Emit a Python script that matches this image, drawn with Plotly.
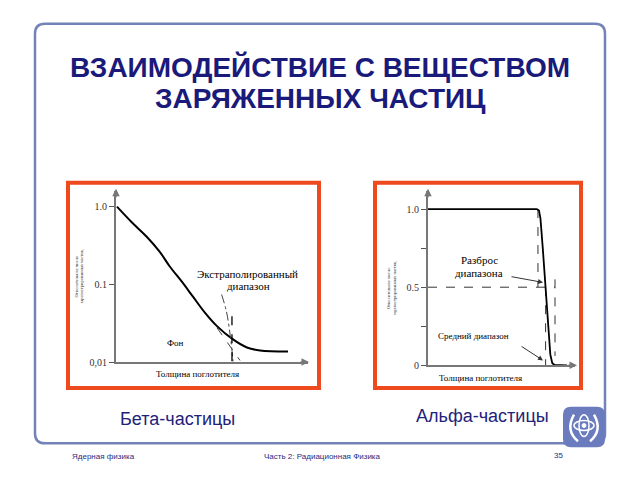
import plotly.graph_objects as go

# page body has an 8px margin: figure is 624x464 placed at (8,8)
OFF = 8
W, H = 640 - 2 * OFF, 480 - 2 * OFF

# ---------------- data ----------------
beta_x = [0.05, 0.82, 1.6, 2.29, 2.8, 3.42, 4.0, 4.64, 5.26, 6.04, 6.82, 7.5, 8.96]
beta_y = [1.0, 0.63, 0.41, 0.26, 0.17, 0.109, 0.070, 0.043, 0.029, 0.020, 0.0154, 0.0141, 0.0137]
beta_ticks = [0.01, 0.1, 1.0]
beta_ticktext = ["0,01", "0.1", "1.0"]

alpha_x = [0, 3, 6, 7.4, 7.55, 7.65, 7.8, 8.0, 8.2, 8.32, 8.45, 8.6, 9.46]
alpha_y = [1, 1, 1, 1.0, 0.99, 0.94, 0.76, 0.5, 0.23, 0.07, 0.015, 0.002, 0]
alpha_ticks = [0, 0.25, 0.5, 0.75, 1.0]
alpha_ticktext = ["0", "", "0.5", "", "1.0"]

# guide lines (data coords)
beta_tangent_x = [5.26, 6.46]
beta_tangent_y = [0.0276, 0.0105]
beta_extrap_x = [5.5, 5.75, 5.95, 6.1]
beta_extrap_y = [0.074, 0.045, 0.022, 0.0102]
beta_range_x = [6.04, 6.04]
beta_range_y = [0.039, 0.01]

alpha_half_x = [0, 8.64]
alpha_half_y = [0.5, 0.5]
alpha_v1_x = [7.48, 7.48]
alpha_v1_y = [1.0, 0.5]
alpha_v2_x = [8.64, 8.64]
alpha_v2_y = [0.55, 0.06]
alpha_v3_x = [8.0, 8.0]
alpha_v3_y = [0.5, 0.0]

def px(x):
    return (x - OFF) / W

def py(y):
    return 1 - (y - OFF) / H

fig = go.Figure()

# beta chart
fig.add_trace(go.Scatter(x=beta_x, y=beta_y, mode="lines", line=dict(color="black", width=2, shape="spline"),
                         xaxis="x", yaxis="y", showlegend=False, hoverinfo="skip"))
fig.add_trace(go.Scatter(x=beta_tangent_x, y=beta_tangent_y, mode="lines", line=dict(color="#444", width=1, dash="dash"),
                         xaxis="x", yaxis="y", showlegend=False, hoverinfo="skip"))
fig.add_trace(go.Scatter(x=beta_extrap_x, y=beta_extrap_y, mode="lines", line=dict(color="#444", width=1, dash="dashdot", shape="spline"),
                         xaxis="x", yaxis="y", showlegend=False, hoverinfo="skip"))
fig.add_trace(go.Scatter(x=beta_range_x, y=beta_range_y, mode="lines", line=dict(color="black", width=1.3, dash="dash"),
                         xaxis="x", yaxis="y", showlegend=False, hoverinfo="skip"))

# alpha chart
for gx, gy in [(alpha_half_x, alpha_half_y), (alpha_v1_x, alpha_v1_y), (alpha_v2_x, alpha_v2_y), (alpha_v3_x, alpha_v3_y)]:
    fig.add_trace(go.Scatter(x=gx, y=gy, mode="lines", line=dict(color="#333", width=1, dash="dash"),
                             xaxis="x2", yaxis="y2", showlegend=False, hoverinfo="skip"))
fig.add_trace(go.Scatter(x=alpha_x, y=alpha_y, mode="lines", line=dict(color="black", width=1.8),
                         xaxis="x2", yaxis="y2", showlegend=False, hoverinfo="skip"))

serif = "Liberation Serif"
tickfont = dict(family=serif, size=10, color="#333")

fig.update_layout(
    width=W, height=H, margin=dict(l=0, r=0, t=0, b=0),
    paper_bgcolor="white", plot_bgcolor="rgba(0,0,0,0)",
    xaxis=dict(domain=[px(116), px(308)], range=[0, 10], showgrid=False, zeroline=False,
               showticklabels=False, showline=True, linecolor="#777", linewidth=1.5, anchor="y"),
    yaxis=dict(domain=[py(366.7), py(193)], type="log", range=[-2, 0.207], showgrid=False, zeroline=False,
               tickvals=beta_ticks, ticktext=beta_ticktext, ticks="outside", ticklen=5, tickcolor="#555",
               tickfont=tickfont, showline=True, linecolor="#777", linewidth=2, anchor="x"),
    xaxis2=dict(domain=[px(428), px(575)], range=[0, 10], showgrid=False, zeroline=False,
                showticklabels=False, showline=True, linecolor="#777", linewidth=1.5, anchor="y2"),
    yaxis2=dict(domain=[py(370), py(193)], range=[0, 1.118], showgrid=False, zeroline=False,
                tickvals=alpha_ticks, ticktext=alpha_ticktext, ticks="outside", ticklen=5, tickcolor="#555",
                tickfont=tickfont, showline=True, linecolor="#777", linewidth=2, anchor="x2"),
)

shapes = []
# slide frame
x0, x1, y0, y1, r = 35, 605, 24, 449, 10
path = (f"M {px(x0+r)},{py(y0)} L {px(x1-r)},{py(y0)} Q {px(x1)},{py(y0)} {px(x1)},{py(y0+r)} "
        f"L {px(x1)},{py(y1-r)} Q {px(x1)},{py(y1)} {px(x1-r)},{py(y1)} "
        f"L {px(x0+r)},{py(y1)} Q {px(x0)},{py(y1)} {px(x0)},{py(y1-r)} "
        f"L {px(x0)},{py(y0+r)} Q {px(x0)},{py(y0)} {px(x0+r)},{py(y0)} Z")
shapes.append(dict(type="path", xref="paper", yref="paper", path=path, line=dict(color="#7383B8", width=2.5)))
# red boxes
for (a, b, c, d) in [(68, 319, 185, 393), (375, 581, 185, 393)]:
    shapes.append(dict(type="rect", xref="paper", yref="paper", x0=px(a), x1=px(b), y0=py(d), y1=py(c),
                       line=dict(color="#EE4A1E", width=4)))
# logo
lx0, lx1, ly0, ly1, lr = 563, 605, 412, 453, 8
lpath = (f"M {px(lx0+lr)},{py(ly0)} L {px(lx1-lr)},{py(ly0)} Q {px(lx1)},{py(ly0)} {px(lx1)},{py(ly0+lr)} "
         f"L {px(lx1)},{py(ly1-lr)} Q {px(lx1)},{py(ly1)} {px(lx1-lr)},{py(ly1)} "
         f"L {px(lx0+lr)},{py(ly1)} Q {px(lx0)},{py(ly1)} {px(lx0)},{py(ly1-lr)} "
         f"L {px(lx0)},{py(ly0+lr)} Q {px(lx0)},{py(ly0)} {px(lx0+lr)},{py(ly0)} Z")
shapes.append(dict(type="path", xref="paper", yref="paper", path=lpath, fillcolor="#6A7BBE", line=dict(width=0)))
# atom ellipses
cx, cy = 584, 431
shapes.append(dict(type="circle", xref="paper", yref="paper", x0=px(cx-10), x1=px(cx+10), y0=py(cy+5), y1=py(cy-5),
                   line=dict(color="white", width=1.5)))
shapes.append(dict(type="circle", xref="paper", yref="paper", x0=px(cx-5), x1=px(cx+5), y0=py(cy+11), y1=py(cy-11),
                   line=dict(color="white", width=1.5)))
shapes.append(dict(type="circle", xref="paper", yref="paper", x0=px(cx-2), x1=px(cx+2), y0=py(cy+2), y1=py(cy-2),
                   fillcolor="white", line=dict(color="white", width=1)))
# laurel wreath arcs
shapes.append(dict(type="path", xref="paper", yref="paper",
                   path=f"M {px(574)},{py(420)} Q {px(565)},{py(436)} {px(578)},{py(447)}",
                   line=dict(color="white", width=2.5)))
shapes.append(dict(type="path", xref="paper", yref="paper",
                   path=f"M {px(594)},{py(420)} Q {px(603)},{py(436)} {px(590)},{py(447)}",
                   line=dict(color="white", width=2.5)))
fig.update_layout(shapes=shapes)

ann = []
def text(x, y, s, size, color="black", family=serif, bold=False, angle=0, xanchor="center"):
    ann.append(dict(x=px(x), y=py(y), xref="paper", yref="paper", text=(f"<b>{s}</b>" if bold else s),
                    showarrow=False, font=dict(family=family, size=size, color=color),
                    xanchor=xanchor, yanchor="middle", textangle=angle))

def arrow(x, y, ax, ay, color="#555", head=2, width=1):
    ann.append(dict(x=px(x), y=py(y), xref="paper", yref="paper", ax=ax - x, ay=ay - y, axref="pixel", ayref="pixel",
                    text="", showarrow=True, arrowhead=head, arrowsize=1, arrowwidth=width, arrowcolor=color))

navy = "#1A1A7A"
text(320, 68, "ВЗАИМОДЕЙСТВИЕ С ВЕЩЕСТВОМ", 28, navy, "Liberation Sans", bold=True)
text(320, 100, "ЗАРЯЖЕННЫХ ЧАСТИЦ", 28, navy, "Liberation Sans", bold=True)
text(177, 424, "Бета-частицы", 18, "#22227A", "Liberation Sans")
text(482, 421, "Альфа-частицы", 18, "#22227A", "Liberation Sans")
text(70, 462, "Ядерная физика", 8, "#2A2A80", "Liberation Sans", xanchor="left")
text(322, 462, "Часть 2: Радиационная Физика", 8, "#2A2A80", "Liberation Sans")
text(558, 461, "35", 8, "#2A2A80", "Liberation Sans")

# beta chart texts
text(247, 277, "Экстраполированный", 11)
text(248, 290, "диапазон", 11)
text(175, 347, "Фон", 9)
text(197, 379, "Толщина поглотителя", 9)
text(79, 280, "Относительное число<br>зарегистрированных частиц", 4.5, "#333", angle=-90)
# alpha chart texts
text(479, 263, "Разброс", 11)
text(479, 276, "диапазона", 11)
text(473, 340, "Средний диапазон", 9)
text(480, 383, "Толщина поглотителя", 9)
text(391, 292, "Относительное число<br>зарегистрированных частиц", 4.5, "#333", angle=-90)

# axis arrows
arrow(116, 191, 116, 201, "#777", 2, 1.5)
arrow(309, 366.7, 299, 366.7, "#777", 2, 1.5)
arrow(428, 191, 428, 201, "#777", 2, 1.5)
arrow(577, 370, 567, 370, "#777", 2, 1.5)
# pointer arrows
arrow(543, 286, 510, 280, "#333", 2, 1)
arrow(543, 365, 520, 350, "#333", 2, 1)

fig.update_layout(annotations=ann)

fig.write_html("out.html", config={"displayModeBar": False})
